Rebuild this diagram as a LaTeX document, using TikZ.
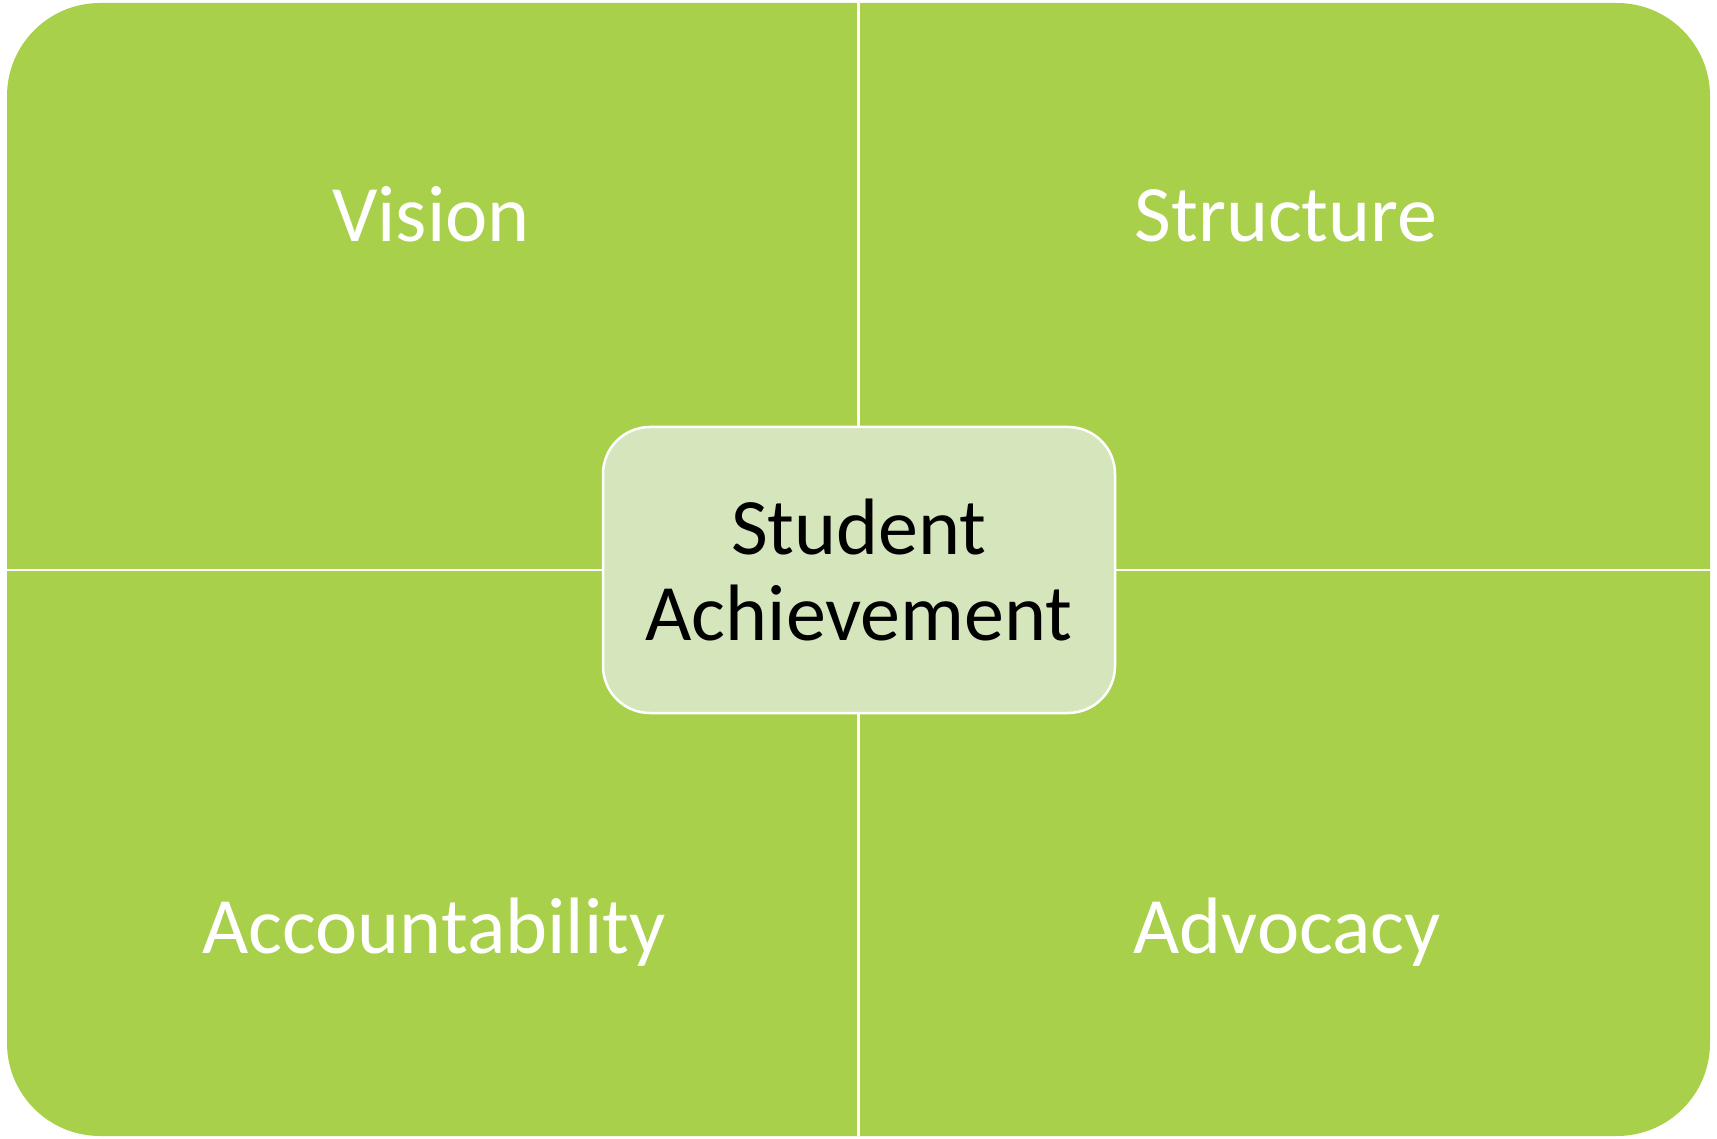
\documentclass[tikz,border=0pt]{standalone}
\usepackage{fontspec}
\setmainfont{Carlito}
\definecolor{leaf}{HTML}{A9D04A}
\definecolor{pale}{HTML}{D5E6BD}
\begin{document}
\begin{tikzpicture}[x=1pt,y=-1pt,
  divider/.style={draw=white,line width=2.5pt},
  label/.style={font=\fontsize{80}{86.5}\selectfont,text=white,anchor=base,inner sep=0pt},
  hub/.style={rectangle,rounded corners=47pt,fill=pale,draw=white,line width=2.5pt,
    minimum width=512pt,minimum height=286pt,inner sep=0pt,align=center,
    font=\fontsize{80}{86.5}\selectfont,text=black}]
  \useasboundingbox (0,0) rectangle (1717,1139);
  % rounded green field
  \fill[leaf,rounded corners=93pt] (7,3) rectangle (1710,1136);
  % quadrant dividers
  \coordinate (top) at (858.5,3);
  \coordinate (bottom) at (858.5,1136);
  \coordinate (left) at (7,570);
  \coordinate (right) at (1710,570);
  \draw[divider] (top) -- (bottom);
  \draw[divider] (left) -- (right);
  % quadrant labels
  \node[label] (vision) at (431,242) {Vision};
  \node[label] (structure) at (1286,242) {Structure};
  \node[label] (accountability) at (434,953) {Accountability};
  \node[label] (advocacy) at (1287,953) {Advocacy};
  % central hub
  \node[hub] (hub) at (859,570) {Student\\Achievement};
\end{tikzpicture}
\end{document}
